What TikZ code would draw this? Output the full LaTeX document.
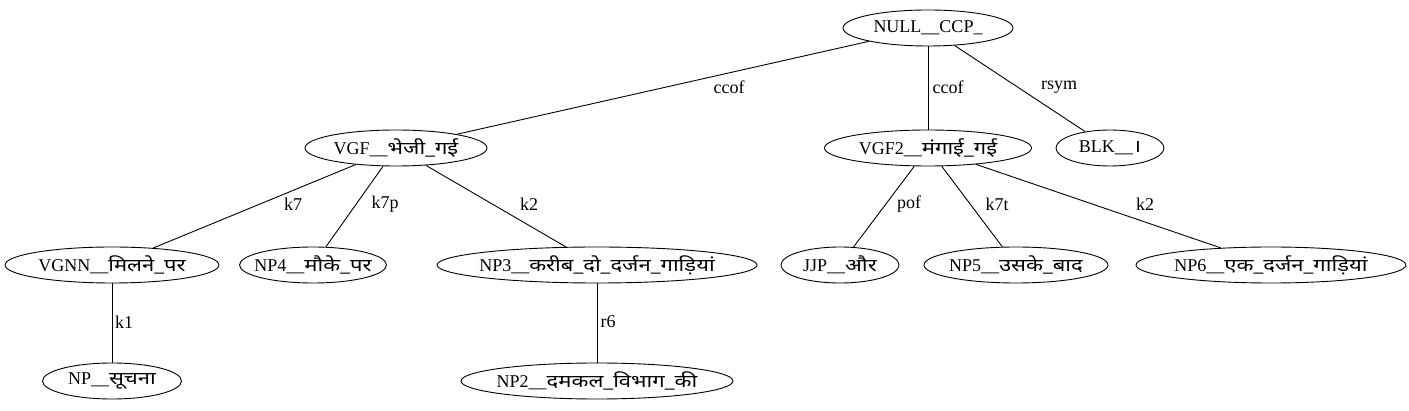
\documentclass[tikz,border=0pt]{standalone}
\usepackage{fontspec}
\setmainfont{Liberation Serif}
\newfontfamily\dev[Script=Devanagari,Scale=0.98,FakeStretch=1.25]{Noto Sans}
\usetikzlibrary{shapes.geometric}
\newcommand{\tx}[1]{\makebox[0pt]{#1}}
\tikzset{
  tn/.style={draw, ellipse, line width=0.9pt, inner sep=0pt, minimum height=36pt, font=\fontsize{18pt}{20pt}\selectfont},
  el/.style={font=\fontsize{18pt}{20pt}\selectfont, inner sep=1pt},
  edge/.style={line width=0.9pt}
}
\begin{document}
\begin{tikzpicture}[x=1pt,y=-1pt]
\useasboundingbox (0,0) rectangle (1409,411);
\node[tn, minimum width=170pt] (null) at (928,28) {\tx{NULL\_\_CCP\_}};
\node[tn, minimum width=182pt] (vgf) at (396,148) {\tx{VGF\_\_{\dev भेजी\_गई}}};
\node[tn, minimum width=207pt] (vgf2) at (928,148) {\tx{VGF2\_\_{\dev मंगाई\_गई}}};
\node[tn, minimum width=108pt] (blk) at (1110,148) {\tx{BLK\_\_{\dev ।}}};
\node[tn, minimum width=214pt] (vgnn) at (112,265) {\tx{VGNN\_\_{\dev मिलने\_पर}}};
\node[tn, minimum width=147pt] (np4) at (313,265) {\tx{NP4\_\_{\dev मौके\_पर}}};
\node[tn, minimum width=320pt] (np3) at (597,265) {\tx{NP3\_\_{\dev करीब\_दो\_दर्जन\_गाड़ियां}}};
\node[tn, minimum width=118pt] (jjp) at (840,265) {\tx{JJP\_\_{\dev और}}};
\node[tn, minimum width=184pt] (np5) at (1016,265) {\tx{NP5\_\_{\dev उसके\_बाद}}};
\node[tn, minimum width=270pt] (np6) at (1271,265) {\tx{NP6\_\_{\dev एक\_दर्जन\_गाड़ियां}}};
\node[tn, minimum width=139pt] (np) at (112,381) {\tx{NP\_\_{\dev सूचना}}};
\node[tn, minimum width=272pt] (np2) at (597,381) {\tx{NP2\_\_{\dev दमकल\_विभाग\_की}}};

\draw[edge] (null) -- (vgf);
\draw[edge] (null) -- (vgf2);
\draw[edge] (null) -- (blk);
\draw[edge] (vgf) -- (vgnn);
\draw[edge] (vgf) -- (np4);
\draw[edge] (vgf) -- (np3);
\draw[edge] (vgf2) -- (jjp);
\draw[edge] (vgf2) -- (np5);
\draw[edge] (vgf2) -- (np6);
\draw[edge] (vgnn) -- (np);
\draw[edge] (np3) -- (np2);

\node[el] (l1) at (729,87) {ccof};
\node[el] (l2) at (948,87) {ccof};
\node[el] (l3) at (1059,87) {rsym};
\node[el] (l4) at (293,204) {k7};
\node[el] (l5) at (385,204) {k7p};
\node[el] (l6) at (529,204) {k2};
\node[el] (l7) at (909,204) {pof};
\node[el] (l8) at (997,204) {k7t};
\node[el] (l9) at (1145,204) {k2};
\node[el] (l10) at (124,322) {k1};
\node[el] (l11) at (608,322) {r6};
\end{tikzpicture}
\end{document}
